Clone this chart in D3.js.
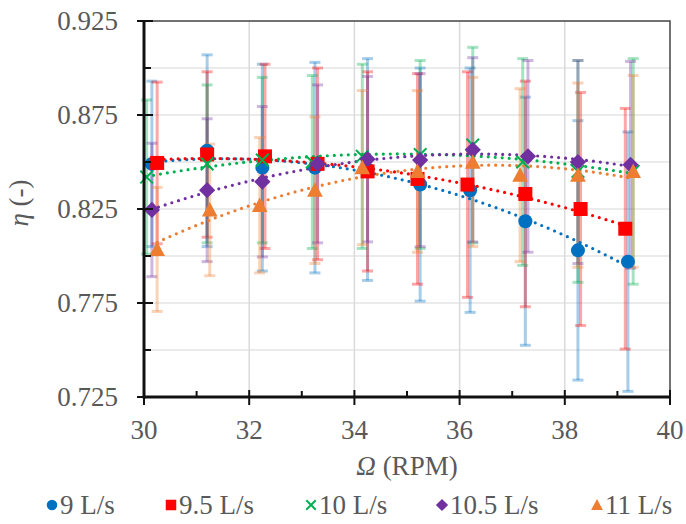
<!DOCTYPE html>
<html>
<head>
<meta charset="utf-8">
<script src="https://cdn.jsdelivr.net/npm/d3@7"></script>
<style>
  body { margin: 0; background: #fff; }
  svg { display: block; }
</style>
</head>
<body>
<div id="chart"></div>
<script>
// tick values
const xTicks = [30, 32, 34, 36, 38, 40];
const xMinor = [31, 33, 35, 37, 39];
const yTicks = [0.725, 0.775, 0.825, 0.875, 0.925];
const yMinor = [0.75, 0.8, 0.85, 0.9];

// series (rotation speed, efficiency, error bar half-length)
const names = ["9 L/s", "9.5 L/s", "10 L/s", "10.5 L/s", "11 L/s"];
const colors = ["#0070C0", "#FF0000", "#00B050", "#7030A0", "#ED7D31"];
const shapes = ["circle", "square", "cross", "diamond", "triangle"];

const rpm9 = [30.15, 31.2, 32.25, 33.25, 34.25, 35.25, 36.2, 37.25, 38.25, 39.2];
const eta9 = [0.849, 0.856, 0.847, 0.847, 0.846, 0.838, 0.835, 0.8185, 0.803, 0.797];
const err9 = [0.044, 0.051, 0.055, 0.056, 0.059, 0.062, 0.065, 0.066, 0.069, 0.069];

const rpm95 = [30.25, 31.2, 32.3, 33.3, 34.25, 35.2, 36.15, 37.25, 38.3, 39.15];
const eta95 = [0.8495, 0.854, 0.853, 0.849, 0.845, 0.841, 0.838, 0.833, 0.825, 0.8145];
const err95 = [0.043, 0.044, 0.049, 0.051, 0.053, 0.056, 0.060, 0.060, 0.062, 0.064];

const rpm10 = [30.05, 31.2, 32.25, 33.2, 34.15, 35.25, 36.25, 37.2, 38.25, 39.3];
const eta10 = [0.842, 0.849, 0.851, 0.850, 0.853, 0.854, 0.859, 0.850, 0.845, 0.845];
const err10 = [0.041, 0.042, 0.044, 0.046, 0.049, 0.050, 0.052, 0.055, 0.059, 0.060];

const rpm105 = [30.15, 31.2, 32.25, 33.3, 34.25, 35.25, 36.25, 37.3, 38.25, 39.25];
const eta105 = [0.8245, 0.835, 0.8395, 0.849, 0.8515, 0.851, 0.8565, 0.853, 0.850, 0.8485];
const err105 = [0.0355, 0.038, 0.040, 0.042, 0.044, 0.046, 0.049, 0.051, 0.054, 0.055];

const rpm11 = [30.25, 31.25, 32.2, 33.25, 34.15, 35.2, 36.25, 37.15, 38.25, 39.3];
const eta11 = [0.8035, 0.8245, 0.827, 0.835, 0.847, 0.845, 0.850, 0.843, 0.843, 0.845];
const err11 = [0.033, 0.035, 0.036, 0.039, 0.041, 0.043, 0.045, 0.046, 0.049, 0.051];

const allX = [rpm9, rpm95, rpm10, rpm105, rpm11];
const allY = [eta9, eta95, eta10, eta105, eta11];
const allE = [err9, err95, err10, err105, err11];

const W = 686, H = 524;
const margin = { top: 21, right: 16, bottom: 127, left: 144 };
const serif = '"Liberation Serif"';
const fontSize = 27;

const svg = d3.select("#chart").append("svg")
  .attr("width", W).attr("height", H);

const x = d3.scaleLinear().domain([30, 40]).range([margin.left, W - margin.right]);
const y = d3.scaleLinear().domain([0.725, 0.925]).range([H - margin.bottom, margin.top]);

const series = names.map((name, i) => ({
  name: name,
  color: colors[i],
  shape: shapes[i],
  points: allX[i].map((v, j) => ({ x: v, y: allY[i][j], e: allE[i][j] }))
}));

// gridlines
svg.append("g").selectAll("line")
  .data(yTicks.concat(yMinor).filter(v => v > 0.725 && v < 0.925))
  .join("line")
  .attr("x1", x(30)).attr("x2", x(40))
  .attr("y1", d => y(d)).attr("y2", d => y(d))
  .attr("stroke", "#e4e4e4").attr("stroke-width", 1.5);

svg.append("g").selectAll("line")
  .data(xTicks.filter(v => v > 30 && v < 40))
  .join("line")
  .attr("x1", d => x(d)).attr("x2", d => x(d))
  .attr("y1", y(0.725)).attr("y2", y(0.925))
  .attr("stroke", "#dadada").attr("stroke-width", 1.5);

// frame top/right
svg.append("path")
  .attr("d", `M${x(30)},${y(0.925)}H${x(40)}V${y(0.725)}`)
  .attr("fill", "none").attr("stroke", "#444").attr("stroke-width", 1.5);

// error bars
const errG = svg.append("g");
series.forEach(s => {
  const g = errG.append("g")
    .attr("stroke", s.color).attr("stroke-opacity", 0.35).attr("stroke-width", 3);
  g.selectAll("line.bar").data(s.points).join("line")
    .attr("class", "bar")
    .attr("x1", d => x(d.x)).attr("x2", d => x(d.x))
    .attr("y1", d => y(d.y - d.e)).attr("y2", d => y(d.y + d.e));
  g.selectAll("line.top").data(s.points).join("line")
    .attr("class", "top")
    .attr("x1", d => x(d.x) - 5.5).attr("x2", d => x(d.x) + 5.5)
    .attr("y1", d => y(d.y + d.e)).attr("y2", d => y(d.y + d.e));
  g.selectAll("line.bot").data(s.points).join("line")
    .attr("class", "bot")
    .attr("x1", d => x(d.x) - 5.5).attr("x2", d => x(d.x) + 5.5)
    .attr("y1", d => y(d.y - d.e)).attr("y2", d => y(d.y - d.e));
});

// polynomial (2nd order) trendline, least squares like the spreadsheet
function quadFit(pts) {
  let s = [0, 0, 0, 0, 0], t = [0, 0, 0];
  pts.forEach(p => {
    for (let k = 0; k < 5; k++) s[k] += Math.pow(p.x, k);
    for (let k = 0; k < 3; k++) t[k] += p.y * Math.pow(p.x, k);
  });
  const A = [[s[0], s[1], s[2], t[0]], [s[1], s[2], s[3], t[1]], [s[2], s[3], s[4], t[2]]];
  for (let i = 0; i < 3; i++) {
    for (let r = i + 1; r < 3; r++) {
      const f = A[r][i] / A[i][i];
      for (let c = i; c < 4; c++) A[r][c] -= f * A[i][c];
    }
  }
  const c = [0, 0, 0];
  for (let i = 2; i >= 0; i--) {
    let v = A[i][3];
    for (let k = i + 1; k < 3; k++) v -= A[i][k] * c[k];
    c[i] = v / A[i][i];
  }
  return c;
}

const line = d3.line().x(d => x(d[0])).y(d => y(d[1]));
series.forEach(s => {
  const c = quadFit(s.points);
  const ext = d3.extent(s.points, d => d.x);
  const xs = d3.range(ext[0], ext[1] + 0.001, (ext[1] - ext[0]) / 80);
  svg.append("path")
    .datum(xs.map(v => [v, c[0] + c[1] * v + c[2] * v * v]))
    .attr("d", line)
    .attr("fill", "none")
    .attr("stroke", s.color)
    .attr("stroke-width", 3.2)
    .attr("stroke-linecap", "round")
    .attr("stroke-dasharray", "0 7");
});

// markers
function drawMarker(g, shape, color, size) {
  if (shape === "circle") {
    g.append("circle").attr("r", size / 2).attr("fill", color);
  } else if (shape === "square") {
    g.append("rect").attr("x", -size / 2).attr("y", -size / 2)
      .attr("width", size).attr("height", size).attr("fill", color);
  } else if (shape === "diamond") {
    const h = size * 0.58;
    g.append("path").attr("d", `M0,${-h}L${h},0L0,${h}L${-h},0Z`).attr("fill", color);
  } else if (shape === "triangle") {
    const h = size * 0.56;
    g.append("path").attr("d", `M0,${-h}L${h},${h * 0.85}L${-h},${h * 0.85}Z`).attr("fill", color);
  } else if (shape === "cross") {
    const h = size * 0.45;
    g.append("path").attr("d", `M${-h},${-h}L${h},${h}M${h},${-h}L${-h},${h}`)
      .attr("stroke", color).attr("stroke-width", 2).attr("fill", "none");
  }
}

series.forEach(s => {
  s.points.forEach(p => {
    const g = svg.append("g").attr("transform", `translate(${x(p.x)},${y(p.y)})`);
    drawMarker(g, s.shape, s.color, 14);
  });
});

// axes
const axisColor = "#111";
svg.append("line")
  .attr("x1", x(30)).attr("x2", x(30)).attr("y1", y(0.925) - 1).attr("y2", y(0.725) + 1.5)
  .attr("stroke", axisColor).attr("stroke-width", 3);
svg.append("line")
  .attr("x1", x(30) - 1).attr("x2", x(40) + 1).attr("y1", y(0.725)).attr("y2", y(0.725))
  .attr("stroke", axisColor).attr("stroke-width", 3);

svg.append("g").selectAll("line").data(yTicks).join("line")
  .attr("x1", x(30) - 7).attr("x2", x(30) + 9)
  .attr("y1", d => y(d)).attr("y2", d => y(d))
  .attr("stroke", axisColor).attr("stroke-width", 2);
svg.append("g").selectAll("line").data(yMinor).join("line")
  .attr("x1", x(30)).attr("x2", x(30) + 7)
  .attr("y1", d => y(d)).attr("y2", d => y(d))
  .attr("stroke", axisColor).attr("stroke-width", 2);

svg.append("g").selectAll("line").data(xTicks).join("line")
  .attr("x1", d => x(d)).attr("x2", d => x(d))
  .attr("y1", y(0.725) - 7).attr("y2", y(0.725) + 8)
  .attr("stroke", axisColor).attr("stroke-width", 2);
svg.append("g").selectAll("line").data(xMinor).join("line")
  .attr("x1", d => x(d)).attr("x2", d => x(d))
  .attr("y1", y(0.725) - 6).attr("y2", y(0.725))
  .attr("stroke", axisColor).attr("stroke-width", 2);

// tick labels
const labelColor = "#595959";
svg.append("g").selectAll("text").data(yTicks).join("text")
  .attr("x", 118).attr("y", d => y(d))
  .attr("dy", "0.35em")
  .attr("text-anchor", "end")
  .style("font-family", serif)
  .attr("font-size", fontSize).attr("fill", labelColor)
  .text(d => d3.format(".3f")(d));

svg.append("g").selectAll("text").data(xTicks).join("text")
  .attr("x", d => x(d)).attr("y", 439)
  .attr("text-anchor", "middle")
  .style("font-family", serif)
  .attr("font-size", fontSize).attr("fill", labelColor)
  .text(d => d);

// axis titles
const xt = svg.append("text")
  .attr("x", 407).attr("y", 475)
  .attr("text-anchor", "middle")
  .style("font-family", serif)
  .attr("font-size", fontSize).attr("fill", labelColor);
xt.append("tspan").attr("font-style", "italic").text("Ω");
xt.append("tspan").text(" (RPM)");

const yt = svg.append("text")
  .attr("transform", "translate(28,203) rotate(-90)")
  .attr("text-anchor", "middle")
  .style("font-family", serif)
  .attr("font-size", fontSize).attr("fill", labelColor);
yt.append("tspan").attr("font-style", "italic").text("η");
yt.append("tspan").text(" (-)");

// legend
const legendX = [52, 171, 311, 442, 597];
series.forEach((s, i) => {
  const g = svg.append("g").attr("transform", `translate(${legendX[i]},505)`);
  drawMarker(g, s.shape, s.color, 10.5);
  g.append("text")
    .attr("x", 8).attr("dy", "0.33em")
    .style("font-family", serif)
    .attr("font-size", fontSize).attr("fill", labelColor)
    .text(s.name);
});
</script>
</body>
</html>
